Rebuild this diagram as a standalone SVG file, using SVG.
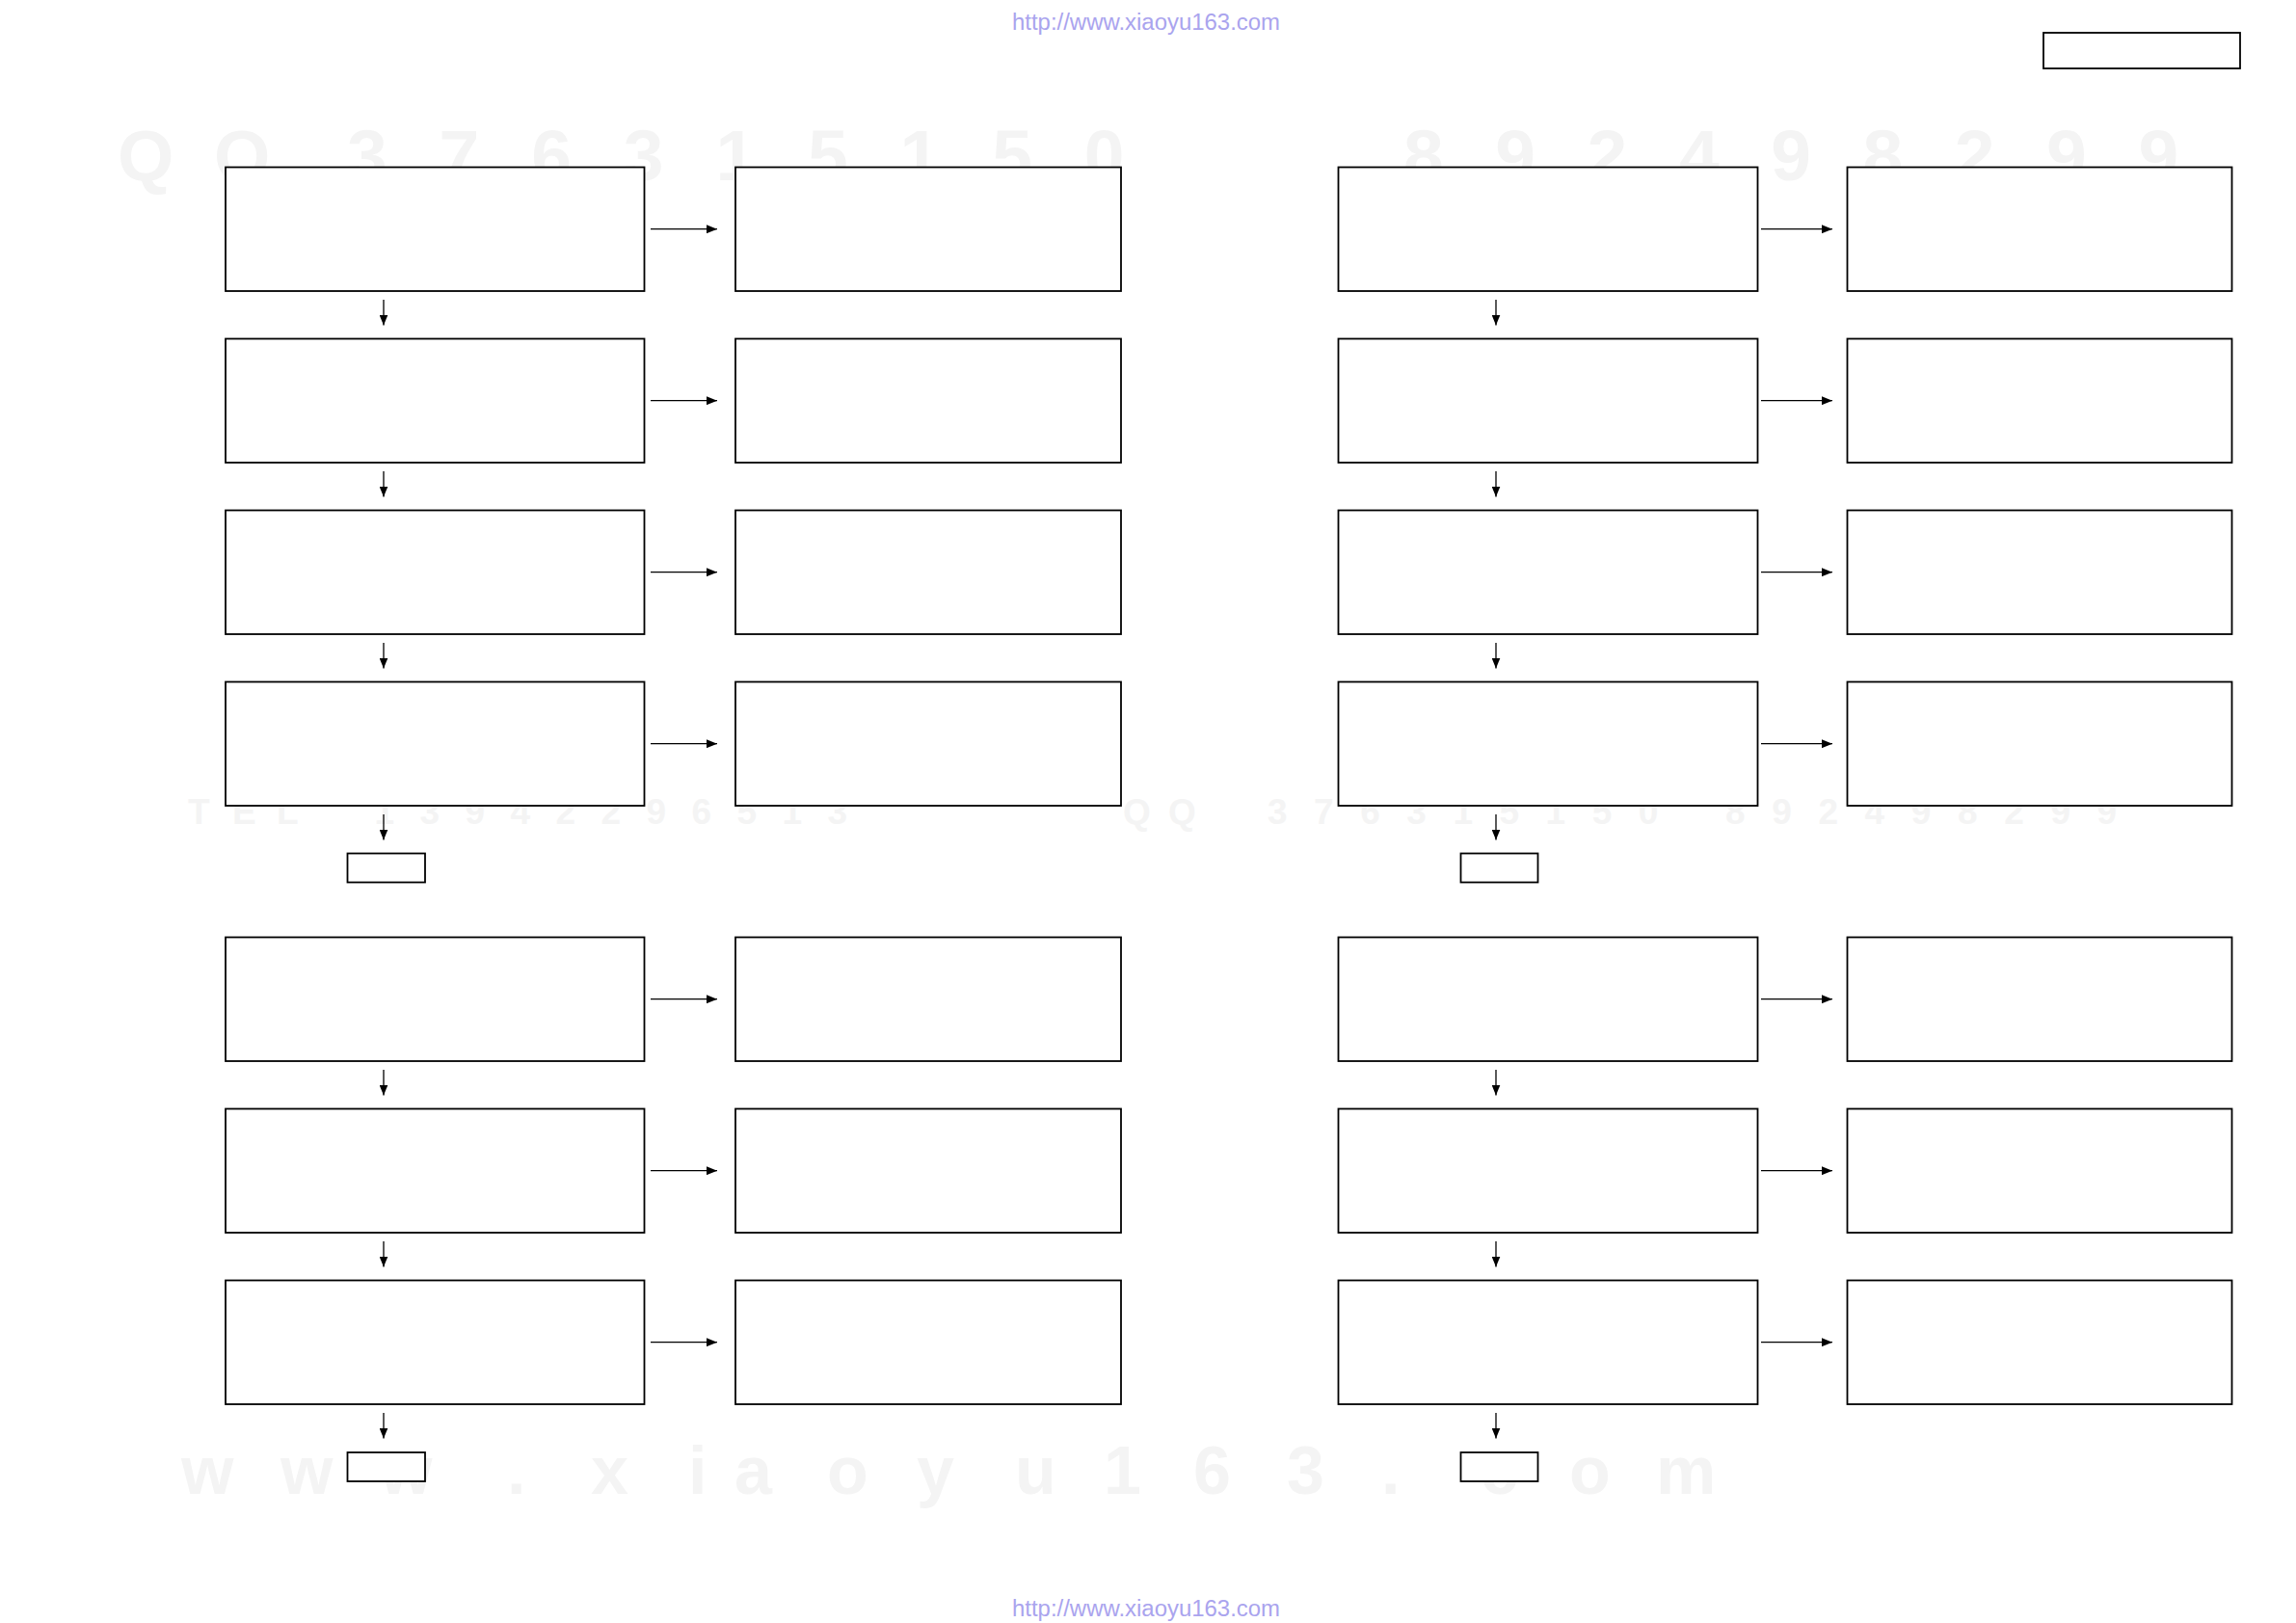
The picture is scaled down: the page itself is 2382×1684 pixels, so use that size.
<svg xmlns="http://www.w3.org/2000/svg" width="2382" height="1684" viewBox="0 0 2382 1684">
<style>
.box{fill:#fff;stroke:#000;stroke-width:1.8}
.con{stroke:#000;stroke-width:1.3;fill:none}
.wm{font-family:"Liberation Sans",Arial,sans-serif;font-weight:bold;fill:#f4f4f4}
.url{font-family:"Liberation Sans",Arial,sans-serif;font-size:23.5px;fill:#aaa4ee}
</style>
<defs>
<marker id="ah" viewBox="0 0 11 9" refX="11" refY="4.5" markerWidth="11" markerHeight="9" markerUnits="userSpaceOnUse" orient="auto">
<path d="M0,0 L11,4.5 L0,9 Z" fill="#000"/>
</marker>
</defs>
<rect width="2382" height="1684" fill="#fff"/>
<g id="watermarks">
<text class="wm" font-size="75" y="187" x="122 222 360 455.6 551.2 646.8 742.4 838 933.6 1029.2 1124.8">QQ376315150</text>
<text class="wm" font-size="75" y="187" x="1456 1551.3 1646.6 1741.9 1837.2 1932.5 2027.8 2123.1 2218.4">892498299</text>
<text class="wm" font-size="37" y="855" x="195 241 287 388.5 435.5 482.5 529.5 576.5 623.5 670.5 717.5 764.5 811.5 858.5">TEL13942296513</text>
<text class="wm" font-size="37" y="855" x="1165 1212 1315 1363.1 1411.2 1459.3 1507.4 1555.5 1603.6 1651.7 1699.8 1790 1838.2 1886.4 1934.6 1982.8 2031 2079.2 2127.4 2175.6">QQ376315150892498299</text>
<text class="wm" font-size="70" y="1550" x="188 291 394 526 613 714 762 858 951 1053 1145 1238 1335 1433 1536 1628 1718">www.xiaoyu163.com</text>
</g>
<text class="url" x="1050" y="31" textLength="278" lengthAdjust="spacingAndGlyphs">http://www.xiaoyu163.com</text>
<text class="url" x="1050" y="1677" textLength="278" lengthAdjust="spacingAndGlyphs">http://www.xiaoyu163.com</text>
<g id="header-box"><rect class="box" x="2120" y="34" width="204" height="37"/></g>
<g id="nodes">
<g id="A1"><rect class="box" x="234" y="173.5" width="434.5" height="128.5"/></g>
<g id="A1r"><rect class="box" x="763" y="173.5" width="400" height="128.5"/></g>
<g id="A2"><rect class="box" x="234" y="351.5" width="434.5" height="128.5"/></g>
<g id="A2r"><rect class="box" x="763" y="351.5" width="400" height="128.5"/></g>
<g id="A3"><rect class="box" x="234" y="529.5" width="434.5" height="128.5"/></g>
<g id="A3r"><rect class="box" x="763" y="529.5" width="400" height="128.5"/></g>
<g id="A4"><rect class="box" x="234" y="707.5" width="434.5" height="128.5"/></g>
<g id="A4r"><rect class="box" x="763" y="707.5" width="400" height="128.5"/></g>
<g id="A5"><rect class="box" x="360.5" y="885.5" width="80.5" height="30"/></g>
<g id="B1"><rect class="box" x="234" y="972.5" width="434.5" height="128.5"/></g>
<g id="B1r"><rect class="box" x="763" y="972.5" width="400" height="128.5"/></g>
<g id="B2"><rect class="box" x="234" y="1150.5" width="434.5" height="128.5"/></g>
<g id="B2r"><rect class="box" x="763" y="1150.5" width="400" height="128.5"/></g>
<g id="B3"><rect class="box" x="234" y="1328.5" width="434.5" height="128.5"/></g>
<g id="B3r"><rect class="box" x="763" y="1328.5" width="400" height="128.5"/></g>
<g id="B4"><rect class="box" x="360.5" y="1507" width="80.5" height="30"/></g>
<g id="C1"><rect class="box" x="1388.5" y="173.5" width="435" height="128.5"/></g>
<g id="C1r"><rect class="box" x="1916.5" y="173.5" width="399" height="128.5"/></g>
<g id="C2"><rect class="box" x="1388.5" y="351.5" width="435" height="128.5"/></g>
<g id="C2r"><rect class="box" x="1916.5" y="351.5" width="399" height="128.5"/></g>
<g id="C3"><rect class="box" x="1388.5" y="529.5" width="435" height="128.5"/></g>
<g id="C3r"><rect class="box" x="1916.5" y="529.5" width="399" height="128.5"/></g>
<g id="C4"><rect class="box" x="1388.5" y="707.5" width="435" height="128.5"/></g>
<g id="C4r"><rect class="box" x="1916.5" y="707.5" width="399" height="128.5"/></g>
<g id="C5"><rect class="box" x="1515.5" y="885.5" width="80" height="30"/></g>
<g id="D1"><rect class="box" x="1388.5" y="972.5" width="435" height="128.5"/></g>
<g id="D1r"><rect class="box" x="1916.5" y="972.5" width="399" height="128.5"/></g>
<g id="D2"><rect class="box" x="1388.5" y="1150.5" width="435" height="128.5"/></g>
<g id="D2r"><rect class="box" x="1916.5" y="1150.5" width="399" height="128.5"/></g>
<g id="D3"><rect class="box" x="1388.5" y="1328.5" width="435" height="128.5"/></g>
<g id="D3r"><rect class="box" x="1916.5" y="1328.5" width="399" height="128.5"/></g>
<g id="D4"><rect class="box" x="1515.5" y="1507" width="80" height="30"/></g>
</g>
<g id="connectors" class="con">
<line x1="675" y1="237.7" x2="744" y2="237.7" marker-end="url(#ah)"/>
<line x1="675" y1="415.7" x2="744" y2="415.7" marker-end="url(#ah)"/>
<line x1="675" y1="593.7" x2="744" y2="593.7" marker-end="url(#ah)"/>
<line x1="675" y1="771.7" x2="744" y2="771.7" marker-end="url(#ah)"/>
<line x1="675" y1="1036.7" x2="744" y2="1036.7" marker-end="url(#ah)"/>
<line x1="675" y1="1214.7" x2="744" y2="1214.7" marker-end="url(#ah)"/>
<line x1="675" y1="1392.7" x2="744" y2="1392.7" marker-end="url(#ah)"/>
<line x1="1827" y1="237.7" x2="1901" y2="237.7" marker-end="url(#ah)"/>
<line x1="1827" y1="415.7" x2="1901" y2="415.7" marker-end="url(#ah)"/>
<line x1="1827" y1="593.7" x2="1901" y2="593.7" marker-end="url(#ah)"/>
<line x1="1827" y1="771.7" x2="1901" y2="771.7" marker-end="url(#ah)"/>
<line x1="1827" y1="1036.7" x2="1901" y2="1036.7" marker-end="url(#ah)"/>
<line x1="1827" y1="1214.7" x2="1901" y2="1214.7" marker-end="url(#ah)"/>
<line x1="1827" y1="1392.7" x2="1901" y2="1392.7" marker-end="url(#ah)"/>
<line x1="398" y1="311" x2="398" y2="337.5" marker-end="url(#ah)"/>
<line x1="398" y1="489" x2="398" y2="515.5" marker-end="url(#ah)"/>
<line x1="398" y1="667" x2="398" y2="693.5" marker-end="url(#ah)"/>
<line x1="398" y1="845" x2="398" y2="871.5" marker-end="url(#ah)"/>
<line x1="398" y1="1110" x2="398" y2="1136.5" marker-end="url(#ah)"/>
<line x1="398" y1="1288" x2="398" y2="1314.5" marker-end="url(#ah)"/>
<line x1="398" y1="1466" x2="398" y2="1492.5" marker-end="url(#ah)"/>
<line x1="1552" y1="311" x2="1552" y2="337.5" marker-end="url(#ah)"/>
<line x1="1552" y1="489" x2="1552" y2="515.5" marker-end="url(#ah)"/>
<line x1="1552" y1="667" x2="1552" y2="693.5" marker-end="url(#ah)"/>
<line x1="1552" y1="845" x2="1552" y2="871.5" marker-end="url(#ah)"/>
<line x1="1552" y1="1110" x2="1552" y2="1136.5" marker-end="url(#ah)"/>
<line x1="1552" y1="1288" x2="1552" y2="1314.5" marker-end="url(#ah)"/>
<line x1="1552" y1="1466" x2="1552" y2="1492.5" marker-end="url(#ah)"/>
</g>
</svg>
